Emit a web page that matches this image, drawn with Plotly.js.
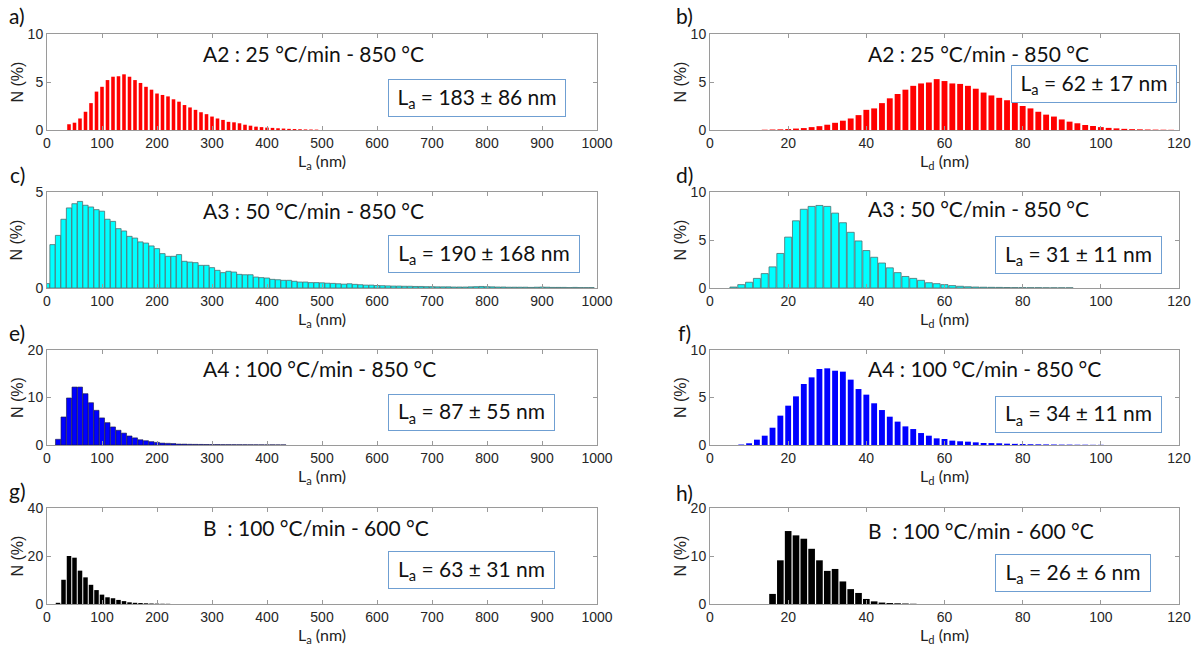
<!DOCTYPE html>
<html><head><meta charset="utf-8">
<script src="https://cdn.plot.ly/plotly-3.0.1.min.js"></script>
<style>html,body{margin:0;padding:0;background:#fff}#chart{width:1198px;height:646px}</style>
</head><body><div id="chart"></div>
<script>
// ---- Data (bin centres, % of particles) ----
const aL = [40,50,60,70,80,90,100,110,120,130,140,150,160,170,180,190,200,210,220,230,240,250,260,270,280,290,300,310,320,330,340,350,360,370,380,390,400,410,420,430,440,450,460,470,480,490];
const aN = [0.6,0.76,1.2,1.9,2.8,4.0,4.5,5.2,5.55,5.6,5.8,5.55,5.2,4.9,4.5,4.2,3.8,3.65,3.5,3.2,2.95,2.6,2.35,2.1,1.85,1.65,1.4,1.2,1.05,0.85,0.8,0.7,0.55,0.45,0.35,0.3,0.25,0.22,0.18,0.15,0.12,0.1,0.08,0.06,0.05,0.04];

const bL = [14,16,18,20,22,24,26,28,30,32,34,36,38,40,42,44,46,48,50,52,54,56,58,60,62,64,66,68,70,72,74,76,78,80,82,84,86,88,90,92,94,96,98,100,102,104,106,108,110,112,114,116,118];
const bN = [0.03,0.05,0.07,0.1,0.15,0.2,0.3,0.4,0.55,0.75,0.97,1.2,1.55,2.1,2.25,2.8,3.3,3.75,4.2,4.6,4.85,4.95,5.3,5.1,4.85,4.8,4.6,4.3,3.9,3.6,3.35,3.1,2.9,2.5,2.25,1.9,1.6,1.4,1.1,0.87,0.7,0.52,0.42,0.3,0.22,0.17,0.12,0.09,0.07,0.05,0.04,0.03,0.02];

const cL = [0,10,20,30,40,50,60,70,80,90,100,110,120,130,140,150,160,170,180,190,200,210,220,230,240,250,260,270,280,290,300,310,320,330,340,350,360,370,380,390,400,410,420,430,440,450,460,470,480,490,500,510,520,530,540,550,560,570,580,590,600,610,620,630,640,650,660,670,680,690,700,710,720,730,740,750,760,770,780,790,800,810,820,830,840,850,860,870,880,890,900,910,920,930,940,950,960,970,980,990];
const cN = [0.23,2.26,2.74,3.58,4.17,4.39,4.51,4.31,4.22,4.08,4.0,3.58,3.47,3.09,2.97,2.69,2.6,2.4,2.34,2.19,2.05,1.79,1.65,1.65,1.74,1.39,1.35,1.32,1.18,1.18,1.06,0.92,0.8,0.87,0.83,0.71,0.69,0.69,0.57,0.54,0.52,0.45,0.43,0.4,0.4,0.35,0.31,0.31,0.28,0.28,0.27,0.25,0.24,0.22,0.2,0.22,0.19,0.17,0.15,0.15,0.13,0.12,0.11,0.1,0.1,0.09,0.09,0.08,0.08,0.07,0.07,0.06,0.06,0.06,0.05,0.05,0.05,0.06,0.07,0.08,0.07,0.06,0.05,0.05,0.04,0.04,0.04,0.04,0.03,0.04,0.05,0.04,0.03,0.03,0.03,0.02,0.03,0.02,0.02,0.02];

const dL = [6,8,10,12,14,16,18,20,22,24,26,28,30,32,34,36,38,40,42,44,46,48,50,52,54,56,58,60,62,64,66,68,70,72,74,76,78,80,82,84,86,88,90,92];
const dN = [0.1,0.35,0.6,1.0,1.5,2.2,3.6,5.3,7.0,8.2,8.5,8.6,8.5,7.8,6.8,5.8,4.9,3.9,3.2,2.6,2.1,1.6,1.2,1.0,0.8,0.55,0.45,0.35,0.25,0.18,0.13,0.1,0.08,0.07,0.06,0.05,0.04,0.04,0.03,0.03,0.02,0.02,0.02,0.02];

const eL = [20,30,40,50,60,70,80,90,100,110,120,130,140,150,160,170,180,190,200,210,220,230,240,250,260,270,280,290,300,310,320,330,340,350,360,370,380,390,400,410,420,430];
const eN = [1.2,5.9,9.9,12.2,12.2,10.8,8.9,7.3,5.7,4.7,3.8,3.1,2.5,1.9,1.5,1.1,0.9,0.7,0.55,0.4,0.35,0.3,0.2,0.18,0.15,0.13,0.12,0.1,0.09,0.08,0.07,0.06,0.06,0.05,0.05,0.04,0.04,0.03,0.03,0.03,0.02,0.02];

const fL = [8,10,12,14,16,18,20,22,24,26,28,30,32,34,36,38,40,42,44,46,48,50,52,54,56,58,60,62,64,66,68,70,72,74,76,78,80,82,84,86,88,90,92,94,96,98,100];
const fN = [0.05,0.18,0.56,0.98,1.82,3.09,4.14,5.12,6.42,7.12,8.0,8.07,7.82,7.72,6.88,5.89,5.3,4.39,3.68,2.98,2.46,1.96,1.68,1.26,0.98,0.7,0.63,0.46,0.39,0.35,0.28,0.21,0.2,0.18,0.14,0.12,0.1,0.08,0.07,0.06,0.05,0.04,0.04,0.03,0.03,0.02,0.02];

const gL = [20,30,40,50,60,70,80,90,100,110,120,130,140,150,160,170,180,190,200,210,220];
const gN = [0.5,10.1,20.0,19.3,13.9,11.1,8.0,5.8,3.9,2.8,2.4,1.7,1.2,0.7,0.5,0.4,0.3,0.2,0.15,0.1,0.08];

const hL = [16,18,20,22,24,26,28,30,32,34,36,38,40,42,44,46,48,50,52];
const hN = [2.1,9.1,15.2,14.3,13.6,11.5,9.1,6.9,7.3,4.7,3.1,2.3,1.05,0.55,0.3,0.2,0.15,0.1,0.05];

const panelLabels = ['a)','b)','c)','d)','e)','f)','g)','h)'];
const sampleTitles = ['A2 : 25 °C/min - 850 °C','A2 : 25 °C/min - 850 °C','A3 : 50 °C/min - 850 °C','A3 : 50 °C/min - 850 °C','A4 : 100 °C/min - 850 °C','A4 : 100 °C/min - 850 °C','B\u00a0 : 100 °C/min - 600 °C','B\u00a0 : 100 °C/min - 600 °C'];
const meanTexts = ['L<sub>a</sub> = 183 ± 86 nm','L<sub>a</sub> = 62 ± 17 nm','L<sub>a</sub> = 190 ± 168 nm','L<sub>a</sub> = 31 ± 11 nm','L<sub>a</sub> = 87 ± 55 nm','L<sub>a</sub> = 34 ± 11 nm','L<sub>a</sub> = 63 ± 31 nm','L<sub>a</sub> = 26 ± 6 nm'];
const yMax = [10,10,5,10,20,10,40,20];
const yStep = [5,5,5,5,10,5,20,10];

// ---- Layout geometry (pixels) ----
const W = 1198, H = 646;
const px = x => x / W, py = y => 1 - y / H;
const colX = [[47,597],[710,1179]];
const rowY = [[34,130],[192,288],[350,445],[508,604]];
const series = [[aL,aN],[bL,bN],[cL,cN],[dL,dN],[eL,eN],[fL,fN],[gL,gN],[hL,hN]];
const styles = [
  {fill:'#ff0000', line:'#ff0000', lw:0, w:6.5},
  {fill:'#ff0000', line:'#ff0000', lw:0, w:1.5},
  {fill:'#00ffff', line:'#4d6f70', lw:0.8, w:9.5},
  {fill:'#00ffff', line:'#4d6f70', lw:0.8, w:1.8},
  {fill:'#0000ff', line:'#1a1a40', lw:0.6, w:9.2},
  {fill:'#0000ff', line:'#0000ff', lw:0, w:1.5},
  {fill:'#000000', line:'#000000', lw:0, w:8.2},
  {fill:'#000000', line:'#000000', lw:0, w:1.7}
];
const titleBoxes = [[201,53],[866,54],[201,210],[866,209],[201,368],[866,368],[201,527],[866,530]];
const meanBoxes = [[388,79,178,38],[1011,65,166,38],[388,235,192,38],[995,236,167,38],[388,394,167,37],[995,396,167,37],[388,551,167,38],[995,554,156,38]];
const labelPos = [[17,15],[684,15],[17,174],[684,174],[17,332],[684,332],[17,490],[684,492]];

const traces = [], annotations = [];
const layout = {
  width: W, height: H, margin: {l:0,r:0,t:0,b:0},
  paper_bgcolor: '#ffffff', plot_bgcolor: '#ffffff',
  showlegend: false, annotations: annotations,
  font: {family: 'Liberation Sans, Arial, sans-serif', color: '#222'}
};
const axisCommon = {
  showline: true, linecolor: '#9a9a9a', linewidth: 1, mirror: 'ticks',
  ticks: 'inside', ticklen: 4, tickcolor: '#9a9a9a', tickwidth: 1,
  showgrid: false, zeroline: false, fixedrange: true,
  tickfont: {family: 'Liberation Sans, Arial, sans-serif', size: 14, color: '#262626'}
};

series.forEach((s, i) => {
  const col = i % 2, row = Math.floor(i / 2);
  const k = i === 0 ? '' : String(i + 1);
  const st = styles[i];
  traces.push({
    type: 'bar', x: s[0], y: s[1], xaxis: 'x' + k, yaxis: 'y' + k,
    width: st.w, marker: {color: st.fill, line: {color: st.line, width: st.lw}},
    hoverinfo: 'x+y'
  });
  layout['xaxis' + k] = Object.assign({}, axisCommon, {
    domain: [px(colX[col][0]), px(colX[col][1])], anchor: 'y' + k,
    range: col === 0 ? [0, 1000] : [0, 120], dtick: col === 0 ? 100 : 20, tick0: 0,
    title: {text: col === 0 ? 'L<sub>a</sub> (nm)' : 'L<sub>d</sub> (nm)', standoff: 2,
            font: {family: 'Lato, sans-serif', size: 16, color: '#222'}}
  });
  layout['yaxis' + k] = Object.assign({}, axisCommon, {
    domain: [py(rowY[row][1]), py(rowY[row][0])], anchor: 'x' + k,
    range: [0, yMax[i]], dtick: yStep[i], tick0: 0,
    title: {text: 'N (%)', standoff: yMax[i] >= 10 ? 0 : 8,
            font: {family: 'Liberation Sans, Arial, sans-serif', size: 16, color: '#222'}}
  });
  annotations.push({
    xref: 'paper', yref: 'paper', x: px(labelPos[i][0]), y: py(labelPos[i][1]),
    xanchor: 'center', yanchor: 'middle', showarrow: false, text: panelLabels[i],
    font: {family: 'Lato, sans-serif', size: 21, color: '#111'}
  });
  annotations.push({
    xref: 'paper', yref: 'paper', x: px(titleBoxes[i][0]), y: py(titleBoxes[i][1]),
    xanchor: 'left', yanchor: 'middle', showarrow: false, text: sampleTitles[i],
    font: {family: 'Lato, sans-serif', size: 21, color: '#111'}
  });
  const b = meanBoxes[i];
  annotations.push({
    xref: 'paper', yref: 'paper', x: px(b[0]), y: py(b[1]),
    xanchor: 'left', yanchor: 'top', showarrow: false, text: meanTexts[i],
    width: b[2] - 2, height: b[3] - 2, align: 'center', valign: 'middle',
    bordercolor: '#6f9fd2', borderwidth: 1, borderpad: 0, bgcolor: '#ffffff',
    font: {family: 'Lato, sans-serif', size: 21, color: '#111'}
  });
});

Plotly.newPlot('chart', traces, layout, {displayModeBar: false, staticPlot: true});
</script></body></html>
